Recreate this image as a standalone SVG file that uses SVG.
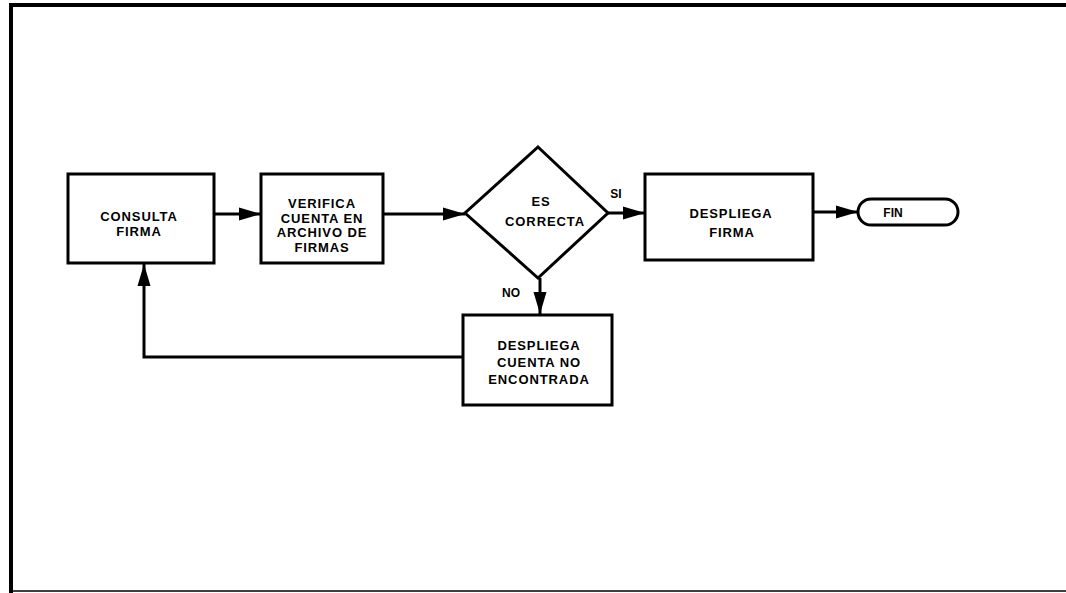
<svg xmlns="http://www.w3.org/2000/svg" width="1066" height="593" viewBox="0 0 1066 593">
<defs>
<style>
.box{fill:#fff;stroke:#000;stroke-width:3}
.t{font-family:"Liberation Sans",Arial,sans-serif;font-weight:bold;font-size:13px;fill:#000;text-anchor:middle;letter-spacing:0.9px}
.s{font-family:"Liberation Sans",Arial,sans-serif;font-weight:bold;font-size:12px;fill:#000;text-anchor:middle}
.c{fill:none;stroke:#000;stroke-width:3}
</style>
<marker id="ah" markerUnits="userSpaceOnUse" markerWidth="24" markerHeight="16" refX="22" refY="8" orient="auto">
<path d="M0,1.5 L22,8 L0,14.5 Z" fill="#000"/>
</marker>
</defs>
<rect x="0" y="0" width="1066" height="593" fill="#fff"/>
<g id="frame">
<line x1="9" y1="5" x2="1066" y2="5" stroke="#000" stroke-width="4"/>
<line x1="11" y1="3" x2="11" y2="593" stroke="#000" stroke-width="4"/>
<line x1="9" y1="591" x2="1066" y2="591" stroke="#000" stroke-width="1.5"/>
</g>
<g id="connectors">
<line class="c" x1="214" y1="214" x2="261" y2="214" marker-end="url(#ah)"/>
<line class="c" x1="383" y1="214" x2="465" y2="214" marker-end="url(#ah)"/>
<line class="c" x1="608" y1="213" x2="645" y2="213" marker-end="url(#ah)"/>
<line class="c" x1="813" y1="212" x2="858" y2="212" marker-end="url(#ah)"/>
<line class="c" x1="540" y1="278" x2="540" y2="314" marker-end="url(#ah)"/>
<polyline class="c" points="463,357 144,357 144,264" marker-end="url(#ah)"/>
<text class="s" x="616" y="198">SI</text>
<text class="s" x="511" y="297">NO</text>
</g>
<g id="consulta">
<rect class="box" x="68" y="174" width="146" height="89"/>
<text class="t" x="139" y="221">CONSULTA</text>
<text class="t" x="139" y="236">FIRMA</text>
</g>
<g id="verifica">
<rect class="box" x="261" y="174" width="122" height="89"/>
<text class="t" x="322" y="208">VERIFICA</text>
<text class="t" x="322" y="222.5">CUENTA EN</text>
<text class="t" x="322" y="237">ARCHIVO DE</text>
<text class="t" x="322" y="251.5">FIRMAS</text>
</g>
<g id="decision">
<polygon class="box" points="538,147 608,213 538,278 465,213"/>
<text class="t" x="541" y="206">ES</text>
<text class="t" x="545" y="226">CORRECTA</text>
</g>
<g id="despliega-firma">
<rect class="box" x="645" y="174" width="168" height="86"/>
<text class="t" x="731" y="218">DESPLIEGA</text>
<text class="t" x="732" y="237">FIRMA</text>
</g>
<g id="fin">
<rect class="box" x="858" y="199" width="100" height="26" rx="13" ry="13"/>
<text class="s" x="893" y="217">FIN</text>
</g>
<g id="despliega-cuenta">
<rect class="box" x="463" y="315" width="149" height="90"/>
<text class="t" x="539" y="350">DESPLIEGA</text>
<text class="t" x="539" y="367">CUENTA NO</text>
<text class="t" x="539" y="384">ENCONTRADA</text>
</g>
</svg>
